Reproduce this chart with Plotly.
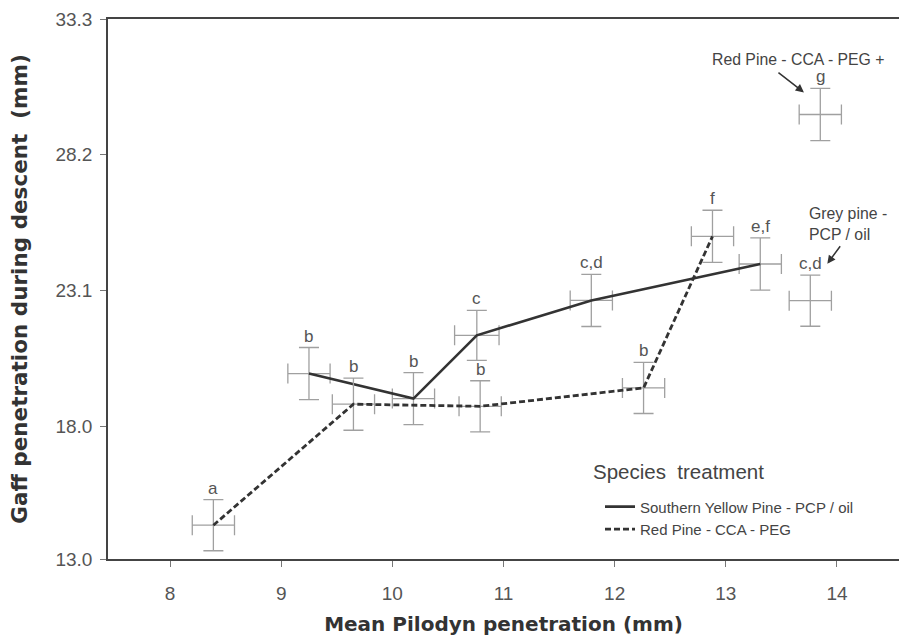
import plotly.graph_objects as go

# Southern Yellow Pine - PCP / oil (solid line)
syp_x = [9.25, 10.19, 10.76, 11.79, 13.31]
syp_y = [19.97, 19.03, 21.41, 22.72, 24.09]
syp_xerr = [0.19, 0.19, 0.20, 0.19, 0.19]
syp_yerr = [0.98, 0.98, 0.94, 0.98, 0.98]
syp_groups = ["b", "b", "c", "c,d", "e,f"]

# Red Pine - CCA - PEG (dashed line)
rp_x = [8.39, 9.65, 10.79, 12.26, 12.88]
rp_y = [14.27, 18.82, 18.74, 19.43, 25.13]
rp_xerr = [0.19, 0.19, 0.19, 0.19, 0.19]
rp_yerr = [0.96, 0.98, 0.96, 0.96, 0.98]
rp_groups = ["a", "b", "b", "b", "f"]

# Stand-alone treatments
rpp_x, rpp_y, rpp_xerr, rpp_yerr, rpp_group = [13.85], [29.71], [0.19], [0.98], ["g"]
grey_x, grey_y, grey_xerr, grey_yerr, grey_group = [13.76], [22.71], [0.19], [0.96], ["c,d"]

x_ticks = [8, 9, 10, 11, 12, 13, 14]
y_ticks = [13.0, 18.0, 23.1, 28.2, 33.3]
y_ticktext = ["13.0", "18.0", "23.1", "28.2", "33.3"]

FONT = "Liberation Sans, Arial, Helvetica, sans-serif"
TITLE_FONT = "DejaVu Sans, Verdana, sans-serif"
ERR_COLOR = "#a0a0a0"


def err(values):
    return dict(type="data", array=values, visible=True, color=ERR_COLOR,
                thickness=1.3, width=10)


fig = go.Figure()

fig.add_trace(go.Scatter(
    x=syp_x, y=syp_y, mode="lines", name="Southern Yellow Pine - PCP / oil",
    line=dict(color="#333333", width=2.6),
    error_x=err(syp_xerr), error_y=err(syp_yerr),
))
fig.add_trace(go.Scatter(
    x=rp_x, y=rp_y, mode="lines", name="Red Pine - CCA - PEG",
    line=dict(color="#333333", width=2.8, dash="6px,3px"),
    error_x=err(rp_xerr), error_y=err(rp_yerr),
))
for xs, ys, xe, ye in [(rpp_x, rpp_y, rpp_xerr, rpp_yerr),
                       (grey_x, grey_y, grey_xerr, grey_yerr)]:
    fig.add_trace(go.Scatter(
        x=xs, y=ys, mode="markers", showlegend=False,
        marker=dict(size=2, color="rgba(0,0,0,0)"),
        error_x=err(xe), error_y=err(ye),
    ))

annotations = []

# Significance-group letters above each error cross
for xs, ys, ye, gs in [(syp_x, syp_y, syp_yerr, syp_groups),
                       (rp_x, rp_y, rp_yerr, rp_groups),
                       (rpp_x, rpp_y, rpp_yerr, rpp_group),
                       (grey_x, grey_y, grey_yerr, grey_group)]:
    for xv, yv, ev, g in zip(xs, ys, ye, gs):
        annotations.append(dict(
            x=xv, y=yv + ev, xref="x", yref="y", text=g, showarrow=False,
            yanchor="bottom", yshift=0,
            font=dict(family=FONT, size=17, color="#555555"),
        ))

# Call-outs for the stand-alone treatments
annotations.append(dict(
    x=rpp_x[0] - 0.198, y=rpp_y[0] + 2.07, xref="x", yref="y",
    text="Red Pine - CCA - PEG +", showarrow=False,
    font=dict(family=FONT, size=15.8, color="#444444"),
))
annotations.append(dict(
    x=rpp_x[0] - 0.147, y=rpp_y[0] + 0.83, xref="x", yref="y", text="",
    showarrow=True, ax=-27, ay=-21, arrowhead=2, arrowsize=1.1,
    arrowwidth=1.5, arrowcolor="#333333",
))
annotations.append(dict(
    x=grey_x[0] - 0.027, y=grey_y[0] + 2.88, xref="x", yref="y",
    text="Grey pine -<br>PCP / oil", showarrow=False, xanchor="left",
    align="left", font=dict(family=FONT, size=15.8, color="#444444"),
))
annotations.append(dict(
    x=grey_x[0] + 0.153, y=grey_y[0] + 1.39, xref="x", yref="y", text="",
    showarrow=True, ax=14, ay=-19, arrowhead=2, arrowsize=1.1,
    arrowwidth=1.5, arrowcolor="#333333",
))

# Legend heading
annotations.append(dict(
    x=0.61, y=0.162, xref="paper", yref="paper", xanchor="left",
    yanchor="middle", text="Species\u00a0\u00a0treatment", showarrow=False,
    font=dict(family=FONT, size=20.5, color="#444444"),
))

fig.update_layout(
    width=899, height=642,
    margin=dict(l=108, r=0, t=19, b=83),
    paper_bgcolor="white", plot_bgcolor="white",
    annotations=annotations,
    showlegend=True,
    legend=dict(
        x=0.622, xanchor="left", y=0.127, yanchor="top",
        bgcolor="rgba(0,0,0,0)", borderwidth=0,
        font=dict(family=FONT, size=15, color="#444444"),
    ),
    xaxis=dict(
        range=[7.442, 14.558], tickvals=x_ticks,
        ticks="outside", ticklen=6, tickwidth=1.2, tickcolor="#777777",
        showline=True, linecolor="#444444", linewidth=1.6, mirror=True,
        showgrid=False, zeroline=False, ticklabelstandoff=10,
        tickfont=dict(family=FONT, size=19, color="#555555"),
        title=dict(text="<b>Mean Pilodyn penetration (mm)</b>", standoff=14,
                   font=dict(family=TITLE_FONT, size=20, color="#333333")),
    ),
    yaxis=dict(
        range=[13.0, 33.3], tickvals=y_ticks, ticktext=y_ticktext,
        ticks="outside", ticklen=6, tickwidth=1.2, tickcolor="#777777",
        showline=True, linecolor="#444444", linewidth=1.6, mirror=False,
        showgrid=False, zeroline=False, ticklabelstandoff=4,
        tickfont=dict(family=FONT, size=19, color="#555555"),
        title=dict(text="<b>Gaff penetration during descent\u00a0 (mm)</b>",
                   standoff=22,
                   font=dict(family=TITLE_FONT, size=21.5, color="#333333")),
    ),
)

fig.write_html("out.html")
